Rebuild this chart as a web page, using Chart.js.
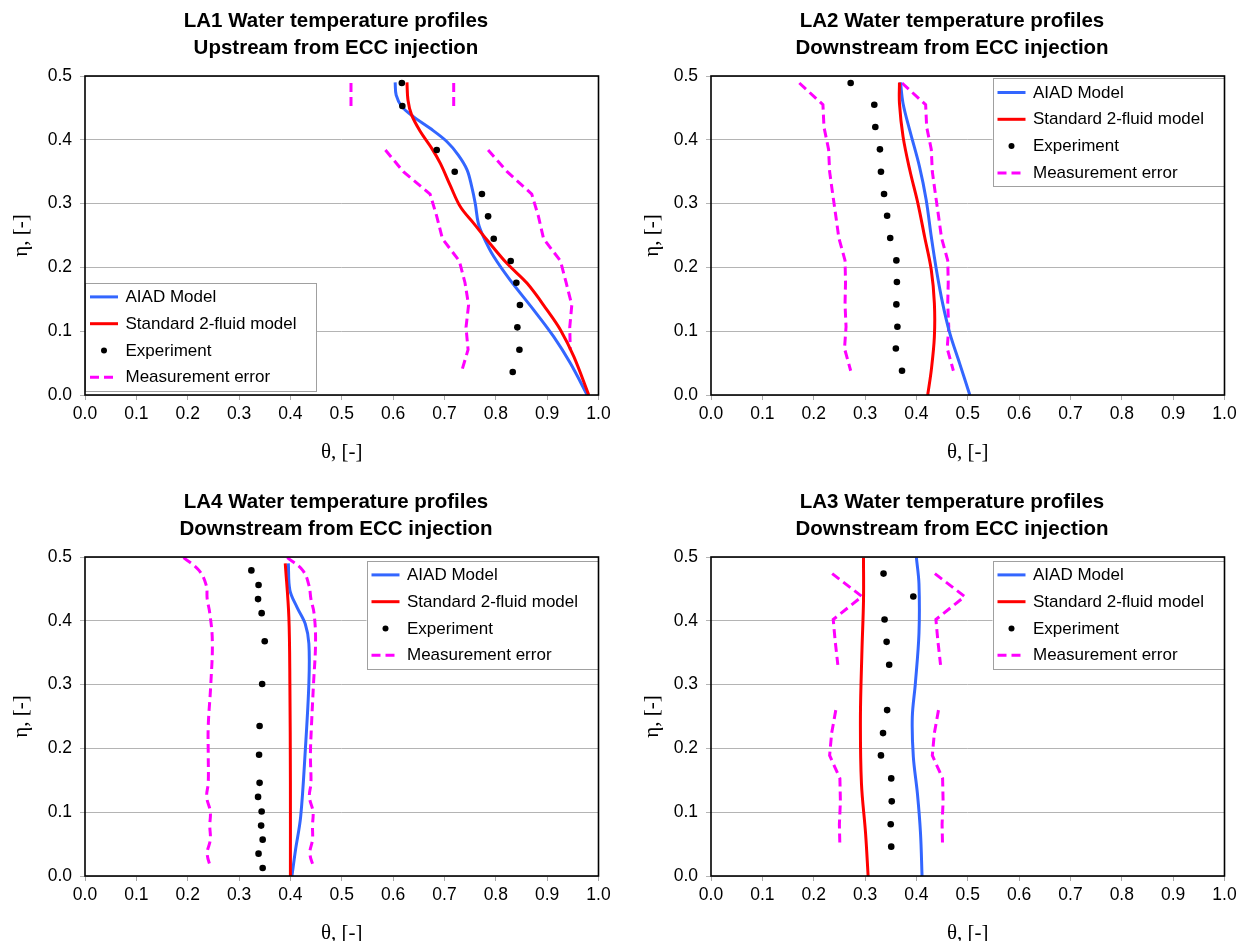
<!DOCTYPE html>
<html>
<head>
<meta charset="utf-8">
<script src="https://cdn.jsdelivr.net/npm/chart.js"></script>
<style>
html, body { margin:0; padding:0; background:#ffffff; width:1248px; height:941px; overflow:hidden; position:relative; }
canvas { position:absolute; }
</style>
</head>
<body>
<canvas id="c1" width="672" height="465" style="left:0px;top:0px"></canvas>
<canvas id="c4" width="672" height="465" style="left:0px;top:481px"></canvas>
<canvas id="c2" width="642" height="465" style="left:631px;top:0px"></canvas>
<canvas id="c3" width="642" height="465" style="left:631px;top:481px"></canvas>
<script>
// ---------- tick labels ----------
const thetaTicks = [0.0, 0.1, 0.2, 0.3, 0.4, 0.5, 0.6, 0.7, 0.8, 0.9, 1.0];
const etaTicks = [0.0, 0.1, 0.2, 0.3, 0.4, 0.5];
const seriesNames = ['AIAD Model', 'Standard 2-fluid model', 'Experiment', 'Measurement error'];

// ---------- LA1 ----------
const la1ExpEta   = [0.489, 0.453, 0.418, 0.384, 0.350, 0.315, 0.280, 0.245, 0.210, 0.176, 0.141, 0.106, 0.071, 0.036];
const la1ExpTheta = [0.617, 0.618, null, 0.685, 0.720, 0.773, 0.785, 0.796, 0.829, 0.840, 0.847, 0.842, 0.846, 0.833];
const la1ErrLow   = [0.518, 0.518, null, 0.585, 0.620, 0.672, 0.685, 0.696, 0.729, 0.740, 0.747, 0.742, 0.746, 0.733];
const la1ErrHigh  = [0.718, 0.718, null, 0.785, 0.822, 0.870, 0.883, 0.893, 0.926, 0.937, 0.948, 0.944, 0.945, null];
const la1AiadTheta = [0.604, 0.606, 0.617, 0.640, 0.672, 0.705, 0.727, 0.744, 0.753, 0.760, 0.766, 0.776, 0.796, 0.828, 0.874, 0.913, 0.945, 0.978];
const la1AiadEta   = [0.490, 0.470, 0.452, 0.436, 0.418, 0.397, 0.376, 0.353, 0.327, 0.300, 0.269, 0.248, 0.217, 0.180, 0.133, 0.091, 0.050, 0.000];
const la1StdTheta  = [0.627, 0.629, 0.636, 0.653, 0.675, 0.692, 0.711, 0.731, 0.757, 0.783, 0.822, 0.861, 0.900, 0.926, 0.952, 0.981];
const la1StdEta    = [0.490, 0.462, 0.439, 0.413, 0.387, 0.363, 0.329, 0.295, 0.269, 0.243, 0.206, 0.175, 0.133, 0.102, 0.060, 0.000];

// ---------- LA2 ----------
const la2ExpEta   = [0.489, 0.455, 0.420, 0.385, 0.350, 0.315, 0.281, 0.246, 0.211, 0.177, 0.142, 0.107, 0.073, 0.038];
const la2ExpTheta = [0.272, 0.318, 0.320, 0.329, 0.331, 0.337, 0.343, 0.349, 0.361, 0.362, 0.361, 0.363, 0.360, 0.372];
const la2ErrLow   = [0.172, 0.218, 0.220, 0.229, 0.231, 0.237, 0.243, 0.249, 0.261, 0.262, 0.261, 0.263, 0.260, 0.272];
const la2ErrHigh  = [0.372, 0.418, 0.420, 0.429, 0.431, 0.437, 0.443, 0.449, 0.461, 0.462, 0.461, 0.463, 0.460, 0.472];
const la2AiadTheta = [0.369, 0.374, 0.387, 0.406, 0.419, 0.429, 0.439, 0.451, 0.465, 0.484, 0.504];
const la2AiadEta   = [0.490, 0.457, 0.415, 0.358, 0.306, 0.248, 0.196, 0.144, 0.097, 0.050, 0.000];
const la2StdTheta  = [0.367, 0.367, 0.374, 0.387, 0.403, 0.416, 0.429, 0.435, 0.435, 0.429, 0.422];
const la2StdEta    = [0.490, 0.457, 0.405, 0.353, 0.300, 0.248, 0.196, 0.144, 0.091, 0.039, 0.000];

// ---------- LA4 ----------
const la4ExpEta   = [0.479, 0.456, 0.434, 0.412, 0.368, 0.301, 0.235, 0.190, 0.146, 0.124, 0.101, 0.079, 0.057, 0.035, 0.0125];
const la4ExpTheta = [0.324, 0.338, 0.337, 0.344, 0.350, 0.345, 0.340, 0.339, 0.340, 0.337, 0.344, 0.343, 0.346, 0.338, 0.346];
const la4ErrEta   = [0.499, 0.479, 0.456, 0.434, 0.412, 0.368, 0.301, 0.235, 0.190, 0.146, 0.124, 0.101, 0.079, 0.057, 0.035, 0.0125];
const la4ErrLow   = [0.192, 0.222, 0.236, 0.238, 0.243, 0.248, 0.245, 0.240, 0.240, 0.240, 0.237, 0.244, 0.243, 0.244, 0.238, 0.245];
const la4ErrHigh  = [0.394, 0.424, 0.436, 0.440, 0.446, 0.449, 0.445, 0.441, 0.439, 0.440, 0.437, 0.444, 0.443, 0.443, 0.438, 0.446];
const la4AiadTheta = [0.396, 0.399, 0.413, 0.429, 0.436, 0.436, 0.429, 0.420, 0.410, 0.403];
const la4AiadEta   = [0.490, 0.448, 0.421, 0.395, 0.364, 0.302, 0.197, 0.093, 0.041, 0.000];
const la4StdTheta  = [0.390, 0.397, 0.399, 0.400, 0.400];
const la4StdEta    = [0.490, 0.406, 0.302, 0.145, 0.000];

// ---------- LA3 ----------
const la3ExpEta   = [0.474, 0.438, 0.402, 0.367, 0.331, 0.295, 0.260, 0.224, 0.189, 0.153, 0.117, 0.081, 0.046];
const la3ExpTheta = [0.336, 0.394, 0.338, 0.342, 0.347, null, 0.343, 0.335, 0.331, 0.351, 0.352, 0.350, 0.351];
const la3ErrLow   = [0.236, 0.294, 0.238, 0.242, 0.247, null, 0.243, 0.235, 0.231, 0.251, 0.252, 0.250, 0.251];
const la3ErrHigh  = [0.436, 0.494, 0.438, 0.442, 0.447, null, 0.443, 0.435, 0.431, 0.451, 0.452, 0.450, 0.451];
const la3AiadTheta = [0.400, 0.405, 0.405, 0.398, 0.392, 0.394, 0.402, 0.408, 0.411];
const la3AiadEta   = [0.499, 0.458, 0.380, 0.302, 0.249, 0.187, 0.129, 0.067, 0.000];
const la3StdTheta  = [0.297, 0.297, 0.294, 0.291, 0.293, 0.301, 0.306];
const la3StdEta    = [0.499, 0.432, 0.354, 0.249, 0.145, 0.067, 0.000];

// ---------- rendering ----------
Chart.defaults.font.family = "'Liberation Sans', Arial, sans-serif";
Chart.defaults.color = '#000000';

const COLORS = { aiad:'#3366ff', std:'#ff0000', exp:'#000000', err:'#ff00ff' };

const frameLegendPlugin = {
  id: 'frameLegend',
  afterDraw(chart, args, opts) {
    const ctx = chart.ctx, ca = chart.chartArea;
    ctx.save();
    const w = opts.width, h = opts.height;
    const bx = opts.corner === 'bl' ? ca.left : ca.right - w;
    const by = opts.corner === 'bl' ? ca.bottom - opts.dy - h : ca.top + opts.dy;
    ctx.fillStyle = '#ffffff';
    ctx.fillRect(bx, by, w, h);
    ctx.strokeStyle = '#a0a0a0';
    ctx.lineWidth = 1;
    ctx.strokeRect(Math.round(bx) + 0.5, Math.round(by) + 0.5, Math.round(w) - 1, Math.round(h) - 1);
    const items = chart.data.datasets.filter(d => d.legendRank !== undefined)
      .sort((a, b) => a.legendRank - b.legendRank);
    ctx.font = opts.font;
    ctx.textBaseline = 'middle';
    ctx.textAlign = 'left';
    items.forEach((d, i) => {
      const y = by + opts.firstRow + i * opts.rowGap;
      if (d.showLine === false) {
        ctx.beginPath();
        ctx.fillStyle = d.pointBackgroundColor;
        ctx.arc(bx + (opts.sampleX0 + opts.sampleX1) / 2, y, 3, 0, Math.PI * 2);
        ctx.fill();
      } else {
        ctx.beginPath();
        ctx.strokeStyle = d.borderColor;
        ctx.lineWidth = d.borderWidth;
        ctx.setLineDash(d.borderDash || []);
        ctx.moveTo(bx + opts.sampleX0, y);
        ctx.lineTo(bx + opts.sampleX1, y);
        ctx.stroke();
        ctx.setLineDash([]);
      }
      ctx.fillStyle = '#000000';
      ctx.fillText(d.label, bx + opts.textX, y + 0.5);
    });
    ctx.strokeStyle = '#000000';
    ctx.lineWidth = 1.6;
    ctx.setLineDash([]);
    ctx.strokeRect(ca.left, ca.top, ca.right - ca.left, ca.bottom - ca.top);
    ctx.restore();
  }
};

function pts(xs, ys) {
  return xs.map((x, i) => ({ x: x, y: x === null ? null : ys[i] }));
}

function makePanel(p) {
  const datasets = [
    { label: seriesNames[2], data: pts(p.expTheta, p.expEta), showLine: false,
      pointRadius: 3.3, pointBackgroundColor: COLORS.exp, pointBorderWidth: 0, order: 0, legendRank: 2 },
    { label: seriesNames[1], data: pts(p.stdTheta, p.stdEta), showLine: true,
      borderColor: COLORS.std, borderWidth: 3, pointRadius: 0, tension: 0.35, order: 1, legendRank: 1 },
    { label: seriesNames[0], data: pts(p.aiadTheta, p.aiadEta), showLine: true,
      borderColor: COLORS.aiad, borderWidth: 3, pointRadius: 0, tension: 0.35, order: 2, legendRank: 0 },
    { label: seriesNames[3], data: pts(p.errLow, p.errEta), showLine: true, spanGaps: false,
      borderColor: COLORS.err, borderWidth: 3, borderDash: [9, 5], pointRadius: 0, tension: p.errTension, order: 3, legendRank: 3 },
    { label: seriesNames[3], data: pts(p.errHigh, p.errEta), showLine: true, spanGaps: false,
      borderColor: COLORS.err, borderWidth: 3, borderDash: [9, 5], pointRadius: 0, tension: p.errTension, order: 3 }
  ];
  return new Chart(document.getElementById(p.id), {
    type: 'scatter',
    data: { datasets: datasets },
    plugins: [frameLegendPlugin],
    options: {
      responsive: false,
      animation: false,
      events: [],
      layout: { padding: 0 },
      plugins: {
        legend: { display: false },
        tooltip: { enabled: false },
        title: {
          display: true,
          text: p.title,
          color: '#000000',
          font: { size: 20.5, weight: 'bold', lineHeight: 1.3 },
          padding: { top: 8.4, bottom: 14.3 }
        },
        frameLegend: {
          corner: p.legendCorner, dy: p.legendDy, width: 232, height: 109,
          firstRow: 14.2, rowGap: 26.8, sampleX0: 5, sampleX1: 33, textX: 40.5,
          font: "17px 'Liberation Sans', Arial, sans-serif"
        }
      },
      scales: {
        x: {
          type: 'linear', position: 'bottom', min: 0, max: 1,
          afterBuildTicks: s => { s.ticks = thetaTicks.map(v => ({ value: v })); },
          ticks: { callback: v => v.toFixed(1), font: { size: 17.5 }, color: '#000000', padding: 4, maxRotation: 0, autoSkip: false },
          grid: { drawOnChartArea: false, drawTicks: true, tickLength: 5, color: '#a8a8a8' },
          border: { display: false },
          title: { display: true, text: 'θ, [-]', color: '#000000',
                   font: { family: "'Liberation Serif', 'Times New Roman', serif", size: 21, lineHeight: 1.2 },
                   padding: { top: 0, bottom: 0.4 } },
          afterFit: s => { s.height = 70; }
        },
        y: {
          type: 'linear', position: 'left', min: 0, max: 0.5,
          afterBuildTicks: s => { s.ticks = etaTicks.map(v => ({ value: v })); },
          ticks: { callback: v => v.toFixed(1), font: { size: 17.5 }, color: '#000000', padding: 8 },
          grid: { drawOnChartArea: true, drawTicks: true, tickLength: 5, color: '#b4b4b4', lineWidth: 1 },
          border: { display: false },
          title: { display: true, text: 'η, [-]', color: '#000000',
                   font: { family: "'Liberation Serif', 'Times New Roman', serif", size: 21, lineHeight: 1.2 },
                   padding: { top: p.yTitlePad, bottom: 0 } },
          afterFit: s => { s.width = p.yAxisW; }
        },
        spacer: {
          type: 'linear', position: 'right', display: true,
          ticks: { display: false },
          grid: { display: false, drawTicks: false },
          border: { display: false },
          title: { display: false },
          afterFit: s => { s.width = p.rightW; }
        }
      }
    }
  });
}

makePanel({ id: 'c1', yAxisW: 85, rightW: 73.5, yTitlePad: 9.1,
  title: ['LA1 Water temperature profiles', 'Upstream from ECC injection'],
  legendCorner: 'bl', legendDy: 3.3,
  expTheta: la1ExpTheta, expEta: la1ExpEta, errLow: la1ErrLow, errHigh: la1ErrHigh, errEta: la1ExpEta, errTension: 0,
  aiadTheta: la1AiadTheta, aiadEta: la1AiadEta, stdTheta: la1StdTheta, stdEta: la1StdEta });

makePanel({ id: 'c2', yAxisW: 80, rightW: 48.5, yTitlePad: 8.4,
  title: ['LA2 Water temperature profiles', 'Downstream from ECC injection'],
  legendCorner: 'tr', legendDy: 2.3,
  expTheta: la2ExpTheta, expEta: la2ExpEta, errLow: la2ErrLow, errHigh: la2ErrHigh, errEta: la2ExpEta, errTension: 0,
  aiadTheta: la2AiadTheta, aiadEta: la2AiadEta, stdTheta: la2StdTheta, stdEta: la2StdEta });

makePanel({ id: 'c4', yAxisW: 85, rightW: 73.5, yTitlePad: 9.1,
  title: ['LA4 Water temperature profiles', 'Downstream from ECC injection'],
  legendCorner: 'tr', legendDy: 3.7,
  expTheta: la4ExpTheta, expEta: la4ExpEta, errLow: la4ErrLow, errHigh: la4ErrHigh, errEta: la4ErrEta, errTension: 0.4,
  aiadTheta: la4AiadTheta, aiadEta: la4AiadEta, stdTheta: la4StdTheta, stdEta: la4StdEta });

makePanel({ id: 'c3', yAxisW: 80, rightW: 48.5, yTitlePad: 8.4,
  title: ['LA3 Water temperature profiles', 'Downstream from ECC injection'],
  legendCorner: 'tr', legendDy: 3.7,
  expTheta: la3ExpTheta, expEta: la3ExpEta, errLow: la3ErrLow, errHigh: la3ErrHigh, errEta: la3ExpEta, errTension: 0,
  aiadTheta: la3AiadTheta, aiadEta: la3AiadEta, stdTheta: la3StdTheta, stdEta: la3StdEta });
</script>
</body>
</html>
